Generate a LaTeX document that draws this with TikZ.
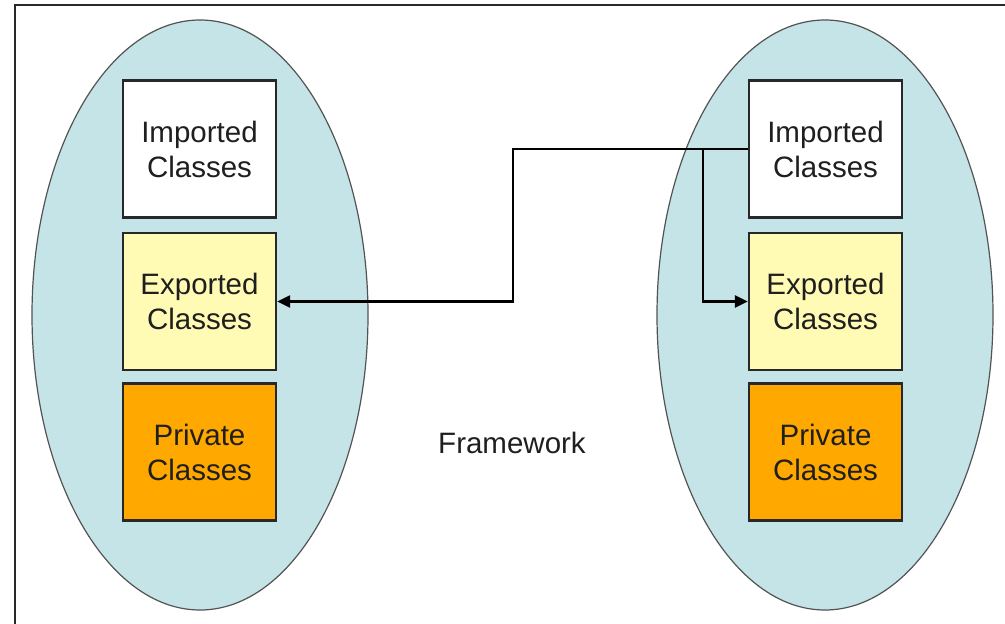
\documentclass[tikz,border=0pt]{standalone}
\usepackage{fontspec}
\setmainfont{Liberation Sans}
\usetikzlibrary{arrows.meta,shapes.geometric}
\definecolor{ellfill}{RGB}{197,228,232}
\definecolor{expfill}{RGB}{255,251,180}
\definecolor{privfill}{RGB}{255,168,0}
\definecolor{edge}{RGB}{40,40,40}
\tikzset{
  cls/.style={draw=edge, line width=2.4pt, minimum width=153pt, minimum height=137pt,
    inner sep=0pt, align=center, font=\fontsize{29.5pt}{35pt}\selectfont, text=black!88},
  imp/.style={cls, fill=white},
  exp/.style={cls, fill=expfill},
  priv/.style={cls, fill=privfill},
  group/.style={ellipse, draw=edge!80, line width=1.2pt, fill=ellfill, minimum width=336pt, minimum height=590pt, inner sep=0pt},
  conn/.style={draw=black, line width=2.4pt},
  arr/.style={conn, -{Triangle[length=13pt,width=12pt]}}
}
\begin{document}
\begin{tikzpicture}[x=1pt,y=-1pt]
\useasboundingbox (0,0) rectangle (1005,624);
\fill[white] (0,0) rectangle (1005,624);
\draw[edge, line width=2.2pt] (15,630) -- (15,5) -- (1010,5);
\node[group] (gl) at (200,315) {};
\node[group] (gr) at (825,315) {};
\node[imp] (li) at (199.5,149) {Imported\\Classes};
\node[exp] (le) at (199.5,301.5) {Exported\\Classes};
\node[priv] (lp) at (199.5,452) {Private\\Classes};
\node[imp] (ri) at (825.5,149) {Imported\\Classes};
\node[exp] (re) at (825.5,301.5) {Exported\\Classes};
\node[priv] (rp) at (825.5,452) {Private\\Classes};
\node[font=\fontsize{29.5pt}{35pt}\selectfont, text=black!88] (fw) at (512,443) {Framework};
\coordinate (br) at (703,149);
\draw[arr] (ri.west) -- (513,149) -- (513,301.5) -- (le.east);
\draw[arr] (br) -- (703,301.5) -- (re.west);
\end{tikzpicture}
\end{document}
